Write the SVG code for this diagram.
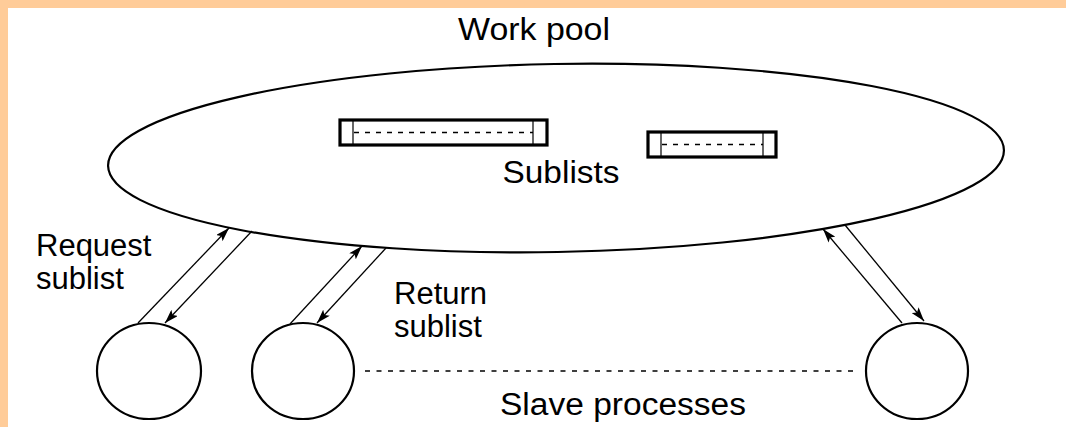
<svg xmlns="http://www.w3.org/2000/svg" width="1066" height="427" viewBox="0 0 1066 427">
<defs>
<style>
.t{font-family:"Liberation Sans",Arial,sans-serif;fill:#000}
.o{fill:none;stroke:#000;stroke-width:2.2}
.ln{stroke:#000;stroke-width:1.3;fill:none}
.box{fill:#fff;stroke:#000;stroke-width:3.2}
.in{stroke:#000;stroke-width:1.2}
.dash{stroke:#000;stroke-width:1.3;stroke-dasharray:5 6}
</style>
<marker id="ah" viewBox="0 0 14 9" refX="14" refY="4.5" markerWidth="14" markerHeight="9" markerUnits="userSpaceOnUse" orient="auto">
<path d="M0,0 L14,4.5 L0,9 L3,4.5 Z" fill="#000"/>
</marker>
</defs>
<rect x="0" y="0" width="1066" height="427" fill="#fff"/>
<rect x="0" y="0" width="1066" height="8" fill="#FFCC99"/>
<rect x="0" y="0" width="8" height="427" fill="#FFCC99"/>

<g id="workpool">
<ellipse class="o" cx="556" cy="158" rx="448" ry="94" transform="rotate(-1 556 158)"/>
<text class="t" x="534" y="40" font-size="32" text-anchor="middle" textLength="152" lengthAdjust="spacingAndGlyphs">Work pool</text>
</g>
<g id="sublist1">
<rect class="box" x="340" y="120" width="207" height="25"/>
<line class="in" x1="353" y1="121" x2="353" y2="144"/>
<line class="in" x1="533" y1="121" x2="533" y2="144"/>
<line class="dash" x1="354" y1="132.5" x2="533" y2="132.5"/>
</g>
<g id="sublist2">
<rect class="box" x="648" y="132" width="128" height="25"/>
<line class="in" x1="661" y1="133" x2="661" y2="156"/>
<line class="in" x1="763" y1="133" x2="763" y2="156"/>
<line class="dash" x1="662" y1="144.5" x2="763" y2="144.5"/>
</g>
<text id="sublists-label" class="t" x="561" y="183" font-size="31" text-anchor="middle" textLength="117" lengthAdjust="spacingAndGlyphs">Sublists</text>

<g id="slave1"><ellipse class="o" cx="149" cy="371" rx="52" ry="48"/></g>
<g id="slave2"><ellipse class="o" cx="303" cy="371" rx="51" ry="48"/></g>
<g id="slave3"><ellipse class="o" cx="917" cy="371" rx="51" ry="48"/></g>
<line class="dash" x1="365" y1="371" x2="857" y2="371" style="stroke-dasharray:5 6.5;stroke-width:1.6"/>

<g id="connectors">
<line class="ln" x1="138" y1="323" x2="229" y2="228" marker-end="url(#ah)"/>
<line class="ln" x1="252" y1="231" x2="165" y2="323" marker-end="url(#ah)"/>
<line class="ln" x1="290" y1="324" x2="362" y2="246" marker-end="url(#ah)"/>
<line class="ln" x1="386" y1="248" x2="317" y2="323" marker-end="url(#ah)"/>
<line class="ln" x1="902" y1="323" x2="823" y2="229" marker-end="url(#ah)"/>
<line class="ln" x1="845" y1="225" x2="924" y2="321" marker-end="url(#ah)"/>
</g>

<text class="t" font-size="31"><tspan x="36" y="256">Request</tspan><tspan x="36" y="289">sublist</tspan></text>
<text class="t" font-size="31"><tspan x="394" y="304">Return</tspan><tspan x="394" y="337">sublist</tspan></text>
<text class="t" x="623" y="415" font-size="31" text-anchor="middle" textLength="246" lengthAdjust="spacingAndGlyphs">Slave processes</text>
</svg>
